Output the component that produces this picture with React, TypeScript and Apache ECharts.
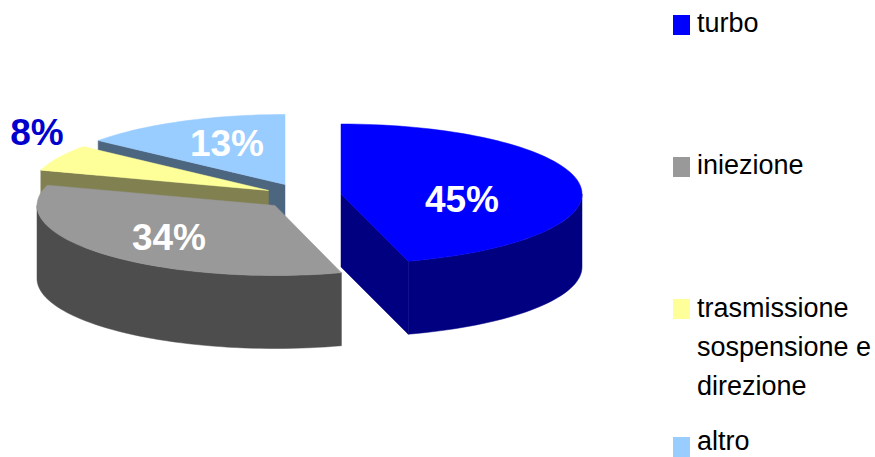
import React, { useEffect, useRef } from "react";
import * as echarts from "echarts";

const categories = ["turbo", "iniezione", "trasmissione\nsospensione e\ndirezione", "altro"];
const percentLabels = [45, 34, 8, 13];
// Share of the turn each slice really covers in the picture, in percent.
const drawnShares = [45.5, 34.2, 6.1, 14.2];

const topColors = ["#0000FF", "#999999", "#FFFF99", "#99CCFF"];
const sideColors = ["#000080", "#4D4D4D", "#808050", "#4D6680"];
const labelColors = ["#FFFFFF", "#FFFFFF", "#0000CC", "#FFFFFF"];

// Exploded position of each slice's apex.
const apexX = [341, 275, 268.5, 285];
const apexY = [194, 205.5, 190.5, 184.5];
const radiiX = [241, 238, 238, 240];
const labelX = [462, 169, 37, 227];
const labelY = [199, 237, 132, 143];
const legendRectY = [15, 157, 299, 437];
const legendTextY = [3, 145, 288, 429];
const legendLineHeights = [39, 39, 39, 24];
const drawOrder = [3, 2, 1, 0];

const RY = 70;
const DEPTH = 73;
const FONT = '"Liberation Sans", Arial, sans-serif';

const rad = (d: number) => (d * Math.PI) / 180;

function arc(i: number, from: number, to: number, dy = 0, reverse = false) {
  const steps = Math.max(2, Math.ceil(Math.abs(to - from) / 2));
  const pts: number[][] = [];
  for (let s = 0; s <= steps; s++) {
    const a = rad(from + ((to - from) * s) / steps);
    pts.push([apexX[i] + radiiX[i] * Math.sin(a), apexY[i] - RY * Math.cos(a) + dy]);
  }
  return reverse ? pts.reverse() : pts;
}

function sliceAngles(i: number) {
  let start = 0;
  for (let k = 0; k < i; k++) start += (drawnShares[k] / 100) * 360;
  return [start, start + (drawnShares[i] / 100) * 360];
}

function renderSlice(i: number) {
  return () => {
    const [start, end] = sliceAngles(i);
    const children: any[] = [];
    const side = { fill: sideColors[i], stroke: sideColors[i], lineWidth: 0.5 };
    const apex = [apexX[i], apexY[i]];
    const apexLow = [apexX[i], apexY[i] + DEPTH];

    // radial face on the start edge, seen when it looks towards the viewer
    if (start > 180 && start < 360) {
      const p = arc(i, start, start)[0];
      children.push({
        type: "polygon",
        shape: { points: [apex, p, [p[0], p[1] + DEPTH], apexLow] },
        style: side,
      });
    }
    // radial face on the end edge
    if (end > 0 && end < 180) {
      const p = arc(i, end, end)[0];
      children.push({
        type: "polygon",
        shape: { points: [apex, p, [p[0], p[1] + DEPTH], apexLow] },
        style: side,
      });
    }
    // outer wall, only its front half
    const wallFrom = Math.max(start, 90);
    const wallTo = Math.min(end, 270);
    if (wallTo > wallFrom) {
      children.push({
        type: "polygon",
        shape: {
          points: [...arc(i, wallFrom, wallTo), ...arc(i, wallFrom, wallTo, DEPTH, true)],
        },
        style: side,
      });
    }
    // top face
    children.push({
      type: "polygon",
      shape: { points: [apex, ...arc(i, start, end)] },
      style: { fill: topColors[i], stroke: topColors[i], lineWidth: 0.5 },
    });
    // percent label
    children.push({
      type: "text",
      style: {
        text: `${percentLabels[i]}%`,
        x: labelX[i],
        y: labelY[i],
        fill: labelColors[i],
        font: `bold 37px ${FONT}`,
        align: "center",
        verticalAlign: "middle",
      },
    });
    return { type: "group", children };
  };
}

export default function App() {
  const ref = useRef<HTMLDivElement>(null);
  useEffect(() => {
    const chart = echarts.init(ref.current!, undefined, { renderer: "svg" });
    const legendItems: any[] = [];
    categories.forEach((name, i) => {
      legendItems.push({
        type: "rect",
        shape: { x: 673, y: legendRectY[i], width: 17, height: 20 },
        style: { fill: topColors[i] },
      });
      legendItems.push({
        type: "text",
        x: 697,
        y: legendTextY[i],
        style: {
          text: name,
          fill: "#000000",
          font: `27px ${FONT}`,
          lineHeight: legendLineHeights[i],
          verticalAlign: "top",
        },
      });
    });
    chart.setOption({
      animation: false,
      backgroundColor: "#FFFFFF",
      graphic: { elements: legendItems },
      series: drawOrder.map((i, order) => ({
        type: "custom",
        name: categories[i],
        coordinateSystem: "none",
        z: order + 1,
        silent: true,
        data: [percentLabels[i]],
        renderItem: renderSlice(i),
      })),
    });
    return () => chart.dispose();
  }, []);
  return (
    <div
      ref={ref}
      style={{ position: "absolute", left: 0, top: 0, width: 875, height: 457 }}
    />
  );
}
